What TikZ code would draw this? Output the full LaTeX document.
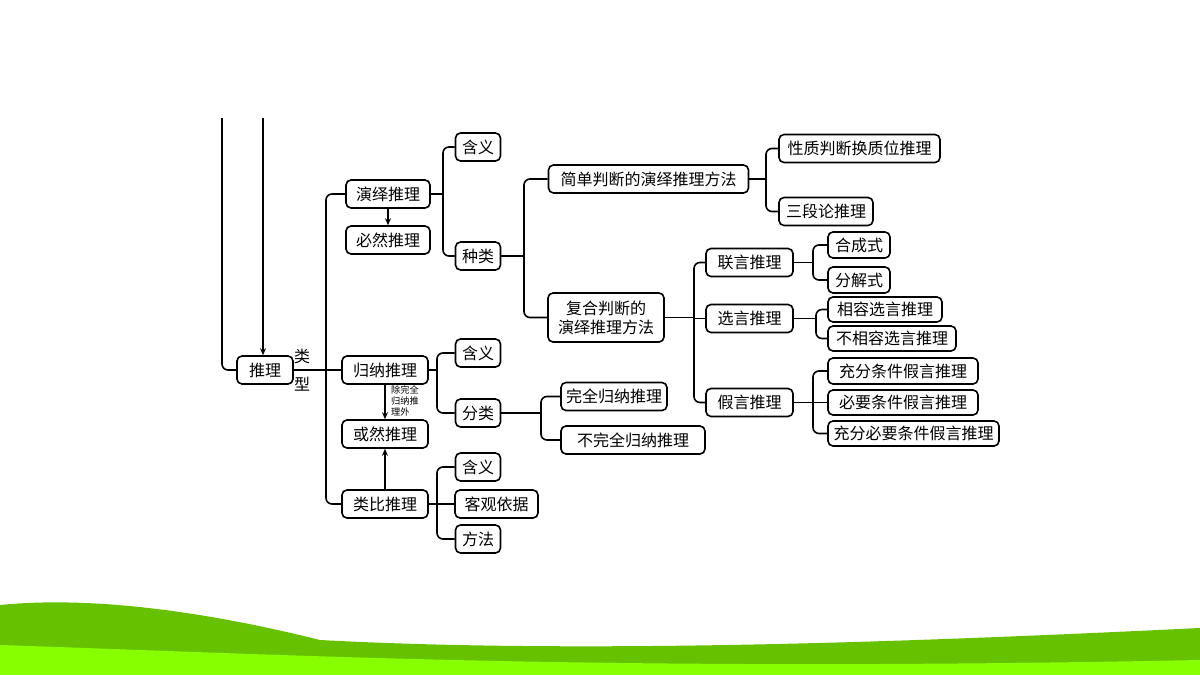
\documentclass[tikz,border=0pt]{standalone}
\usepackage{fontspec}
\newfontfamily\cjk{Noto Sans CJK SC}
\usetikzlibrary{arrows.meta}
\begin{document}
\begin{tikzpicture}[x=0.5pt,y=-0.5pt,
  bx/.style={draw,line width=0.8pt,rounded corners=2.5pt,font=\cjk\fontsize{8}{9.5}\selectfont,inner sep=0pt,minimum height=14pt,fill=white,align=center},
  conn/.style={line width=0.8pt,rounded corners=3pt},
  arr/.style={line width=0.8pt,-{Stealth[length=3.5pt,width=3pt]}}]
\useasboundingbox (0,0) rectangle (1200,675);
\fill[white] (0,0) rectangle (1200,675);
% bottom landscape
\fill[green!60!black!60!yellow] (0,675) -- (0,605) .. controls (100,595) and (220,615) .. (320,640) .. controls (600,655) and (950,640) .. (1200,628) -- (1200,675) -- cycle;
\fill[green!45!lime!80!yellow] (0,675) -- (0,645) .. controls (300,655) and (600,672) .. (1200,660) -- (1200,675) -- cycle;
\node[bx,minimum width=28pt] (tl) at (265,370) {推理};
\node[bx,minimum width=42pt] (yy) at (388,194) {演绎推理};
\node[bx,minimum width=42pt] (br) at (388,240) {必然推理};
\node[bx,minimum width=43pt] (gn) at (385,370) {归纳推理};
\node[bx,minimum width=43pt] (hr) at (385,434) {或然推理};
\node[bx,minimum width=43pt] (lb) at (385,504) {类比推理};
\node[bx,minimum width=22.5pt] (hy1) at (478,147) {含义};
\node[bx,minimum width=22.5pt] (zl) at (478,256) {种类};
\node[bx,minimum width=22.5pt] (hy2) at (478,353) {含义};
\node[bx,minimum width=22.5pt] (fl) at (478,413) {分类};
\node[bx,minimum width=22.5pt] (hy3) at (478,467) {含义};
\node[bx,minimum width=41.5pt] (kg) at (496.5,504) {客观依据};
\node[bx,minimum width=22.5pt] (ff) at (478,539) {方法};
\node[bx,minimum width=100pt] (jd) at (648.5,179) {简单判断的演绎推理方法};
\node[bx,minimum width=58pt,minimum height=24.5pt] (fh) at (606,317.5) {复合判断的\\演绎推理方法};
\node[bx,minimum width=80.5pt] (xz) at (859.5,148.5) {性质判断换质位推理};
\node[bx,minimum width=47pt] (sd) at (826,211.5) {三段论推理};
\node[bx,minimum width=43.5pt] (ly) at (749.5,262.5) {联言推理};
\node[bx,minimum width=43.5pt] (xy) at (749.5,318.5) {选言推理};
\node[bx,minimum width=43.5pt] (jy) at (749.5,402.5) {假言推理};
\node[bx,minimum width=31pt,minimum height=13pt] (hc) at (859,245) {合成式};
\node[bx,minimum width=31pt,minimum height=13pt] (fj) at (859,280) {分解式};
\node[bx,minimum width=57pt,minimum height=12.5pt] (xr) at (885,309.5) {相容选言推理};
\node[bx,minimum width=64pt,minimum height=12.5pt] (bxr) at (892,338.5) {不相容选言推理};
\node[bx,minimum width=75pt,minimum height=13pt] (cf) at (903,371) {充分条件假言推理};
\node[bx,minimum width=75pt,minimum height=12.5pt] (by) at (903,402.5) {必要条件假言推理};
\node[bx,minimum width=85.5pt,minimum height=12.5pt] (cfby) at (913.5,433.5) {充分必要条件假言推理};
\node[bx,minimum width=53pt] (wq) at (614,396.5) {完全归纳推理};
\node[bx,minimum width=72pt] (bwq) at (633,440) {不完全归纳推理};
\node[font=\cjk\fontsize{8}{9}\selectfont] (lei) at (302,356) {类};
\node[font=\cjk\fontsize{8}{9}\selectfont] (xing) at (302,384) {型};
\node[font=\cjk\fontsize{4.6}{5.4}\selectfont,align=left,inner sep=0pt] (cw) at (405,401) {除完全\\归纳推\\理外};
\coordinate (top1) at (222,118);
\coordinate (top2) at (263,118);
\coordinate (j0) at (326,0); \coordinate (j1) at (443,0); \coordinate (j2) at (437,0);
\coordinate (j3) at (524,0); \coordinate (j4) at (694,0); \coordinate (j5) at (766,0);
\coordinate (j6) at (813,0); \coordinate (j7) at (816,0); \coordinate (j8) at (541,0);
% connectors
\draw[conn] (top1) |- (tl.west);
\draw[arr] (top2) -- (top2 |- tl.north);
\draw[conn] (tl.east) -- (gn.west);
\draw[conn] (yy.west) -| (j0 |- gn.west) |- (lb.west);
\draw[arr] (yy) -- (br);
\draw[arr] (gn) -- (hr);
\draw[arr] (lb) -- (hr);
% parent stubs
\foreach \a/\j in {yy/j1,gn/j2,lb/j2,zl/j3,fh/j4,jd/j5,ly/j6,xy/j7,jy/j6,fl/j8}
  \draw[line width=0.8pt] (\a.east) -- (\a.east -| \j);
% bars (first to last child)
\foreach \f/\j/\l in {hy1/j1/zl,hy2/j2/fl,hy3/j2/ff,jd/j3/fh,ly/j4/jy,xz/j5/sd,hc/j6/fj,xr/j7/bxr,cf/j6/cfby,wq/j8/bwq}
  \draw[conn] (\f.west) -| (\j |- \l.west) -- (\l.west);
% middle children
\foreach \j/\b in {j2/kg,j4/xy,j6/by}
  \draw[line width=0.8pt] (\j |- \b.west) -- (\b.west);
\end{tikzpicture}
\end{document}
